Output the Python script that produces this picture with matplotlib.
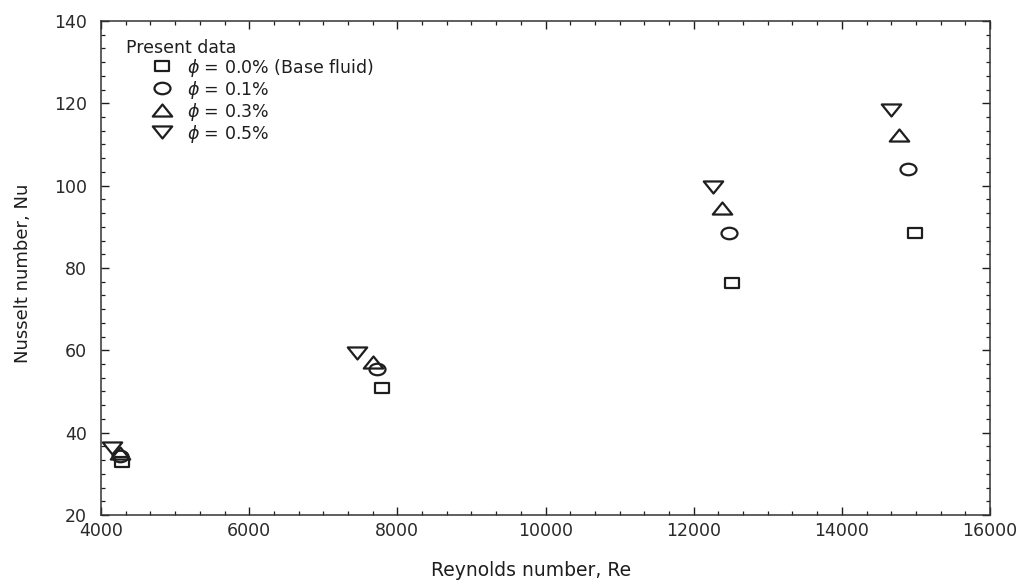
import numpy as np
import matplotlib
matplotlib.use("Agg")
import matplotlib.pyplot as plt
from matplotlib.path import Path
from matplotlib.ticker import MultipleLocator, AutoMinorLocator

plt.rcParams['font.family'] = ['DejaVu Sans']
plt.rcParams['mathtext.fontset'] = 'dejavusans'

# data (Reynolds number vs Nusselt number)
re_base = [4279, 7789, 12513, 14987]
nu_base = [32.9, 50.8, 76.3, 88.4]
re_01 = [4262, 7722, 12477, 14897]
nu_01 = [34.3, 55.4, 88.4, 104.0]
re_03 = [4256, 7672, 12378, 14776]
nu_03 = [35.1, 57.2, 94.5, 112.3]
re_05 = [4144, 7452, 12265, 14659]
nu_05 = [36.3, 59.4, 99.7, 118.4]

labels = [r"$\phi$ = 0.0% (Base fluid)", r"$\phi$ = 0.1%",
          r"$\phi$ = 0.3%", r"$\phi$ = 0.5%"]

# the reference image is stretched sideways, so the markers are wider than tall
sq = Path([(-1, -0.75), (1, -0.75), (1, 0.75), (-1, 0.75), (-1, -0.75)],
          [Path.MOVETO, Path.LINETO, Path.LINETO, Path.LINETO, Path.CLOSEPOLY])
c = Path.unit_circle()
circ = Path(c.vertices * np.array([1.0, 0.72]), c.codes)
tri_up = Path([(0, 0.62), (-1, -0.62), (1, -0.62), (0, 0.62)],
              [Path.MOVETO, Path.LINETO, Path.LINETO, Path.CLOSEPOLY])
tri_dn = Path([(0, -0.62), (-1, 0.62), (1, 0.62), (0, -0.62)],
              [Path.MOVETO, Path.LINETO, Path.LINETO, Path.CLOSEPOLY])

ink = '#1e1e1e'
fig = plt.figure(figsize=(10.29, 5.81), dpi=100)
ax = fig.add_axes([0.0982, 0.1136, 0.8639, 0.8503])

series = [
    (re_base, nu_base, sq, 10.5),
    (re_01, nu_01, circ, 11.5),
    (re_03, nu_03, tri_up, 14),
    (re_05, nu_05, tri_dn, 14),
]
handles = []
for (x, y, m, ms), lab in zip(series, labels):
    h, = ax.plot(x, y, linestyle='none', marker=m, markersize=ms,
                 markerfacecolor='none', markeredgecolor=ink,
                 markeredgewidth=1.6, label=lab)
    handles.append(h)

ax.set_xlim(4000, 16000)
ax.set_ylim(20, 140)
ax.xaxis.set_major_locator(MultipleLocator(2000))
ax.xaxis.set_minor_locator(AutoMinorLocator(6))
ax.yaxis.set_major_locator(MultipleLocator(20))
ax.yaxis.set_minor_locator(AutoMinorLocator(6))

ax.tick_params(which='both', direction='in', top=True, right=True,
               colors=ink, labelcolor='#2a2a2a', labelsize=12.5)
ax.tick_params(which='major', length=6, width=1.0)
ax.tick_params(which='minor', length=3, width=0.9)
ax.tick_params(axis='x', pad=5)
ax.tick_params(axis='y', pad=10)
for s in ax.spines.values():
    s.set_linewidth(1.1)
    s.set_color('#333333')

ax.set_xlabel("Reynolds number, Re", fontsize=13.5, color='#1e1e1e')
ax.set_ylabel("Nusselt number, Nu", fontsize=13, color='#1e1e1e')
ax.xaxis.set_label_coords(0.484, -0.093)
ax.yaxis.set_label_coords(-0.078, 0.49)

ax.text(0.028, 0.945, "Present data", transform=ax.transAxes,
        fontsize=12.5, va='center', ha='left', color='#1e1e1e')
ax.legend(handles=handles, loc='upper left', bbox_to_anchor=(0.0593, 0.928),
          frameon=False, fontsize=12.5, handlelength=1.0, handletextpad=0.9,
          labelspacing=0.0, borderpad=0, borderaxespad=0,
          labelcolor='#1e1e1e')

fig.savefig("out.png", dpi=100)
